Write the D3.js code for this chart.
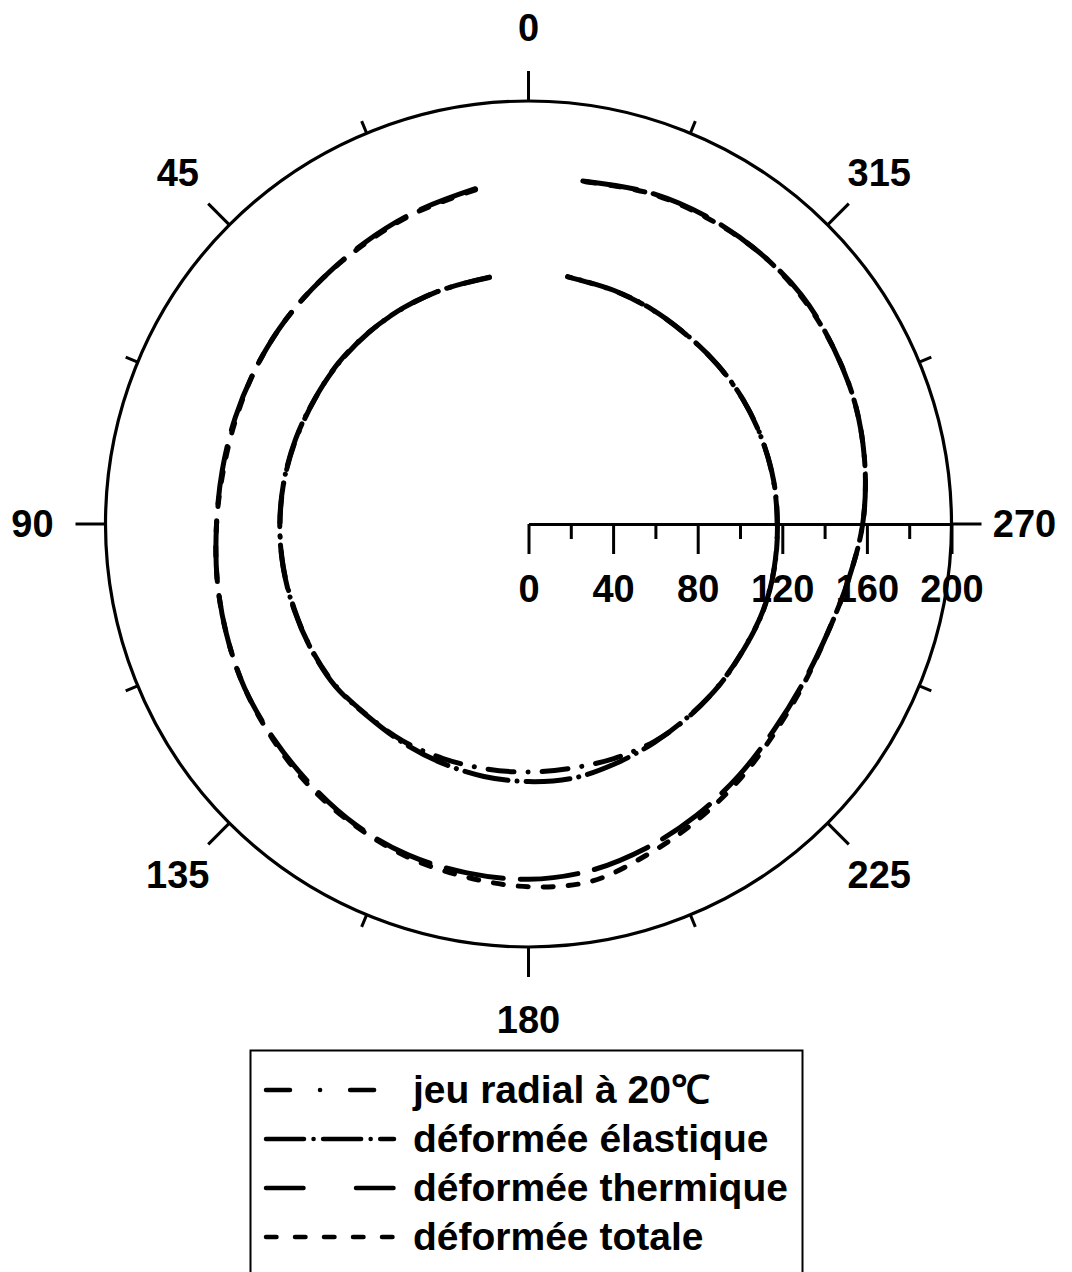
<!DOCTYPE html>
<html>
<head>
<meta charset="utf-8">
<script src="https://cdn.jsdelivr.net/npm/d3@7"></script>
<style>
  html, body { margin: 0; padding: 0; background: #fff; }
  svg { display: block; }
  text { font-family: "Liberation Sans", Arial, sans-serif; font-weight: bold; fill: #000; }
</style>
</head>
<body>
<svg id="chart" width="1072" height="1272"></svg>
<script>
// Angular positions (degrees, counter-clockwise from the top) of the measured points
const angles = [9, 20, 30, 40, 50, 60, 70, 80, 90, 100, 110, 120, 130, 140, 150, 160, 170, 180,
                190, 200, 210, 220, 230, 240, 250, 260, 270, 280, 290, 300, 310, 320, 330, 340, 351];

// Radial values (µm) for each series
const jeuRadial = [118, 118, 118, 118, 117.8, 117, 117, 117.3, 117.5, 117.7, 117.8, 118.5, 119, 118.3, 118.5, 118, 117.5, 117.3,
                   117.2, 118, 118.8, 118.5, 118, 117.7, 118.2, 118, 117.6, 117.6, 117.5, 117.2, 116.8, 116.5, 117, 117.5, 118.3];
const elastique = [118.2, 118, 118.1, 117.9, 117.6, 117.1, 117.2, 117.4, 117.6, 117.8, 118, 118.6, 119.3, 118.5, 119.2, 120.2, 121.2, 121.8,
                   122, 120.5, 119.2, 118.3, 118.1, 117.8, 118.3, 118.1, 117.7, 117.7, 117.4, 117.3, 116.9, 116.6, 117.1, 117.6, 118.4];
const thermique = [160.5, 157, 154, 151.5, 150, 148.5, 147.5, 147, 147.5, 149.5, 152, 155, 157.5, 160.5, 164, 166.5, 167.5, 168,
                   166.5, 163, 159, 155, 151.5, 150, 150.5, 153.5, 158, 161.5, 164.5, 166.5, 168.5, 168.5, 168, 166.8, 164.2];
const totale = [160, 156.5, 153.5, 151.5, 150, 148.5, 147, 146.5, 147.5, 149.5, 152, 155, 158, 161.5, 164.5, 167.5, 169.5, 171.5,
                171.5, 166, 161, 156.5, 152.5, 150.5, 150.5, 153.5, 158, 161.5, 164.5, 166.5, 168, 168.5, 167.5, 166.5, 164];

const seriesNames = ["jeu radial à 20℃", "déformée élastique", "déformée thermique", "déformée totale"];
const seriesValues = [jeuRadial, elastique, thermique, totale];

// Axis ticks and labels
const radialMajorTicks = [0, 40, 80, 120, 160, 200];
const radialMinorTicks = [20, 60, 100, 140, 180];
const angleMajorTicks = [0, 45, 90, 135, 180, 225, 270, 315];
const angleMinorTicks = [22.5, 67.5, 112.5, 157.5, 202.5, 247.5, 292.5, 337.5];

// Line styles per series: on the curves and in the legend keys (key length in px)
const curveDashes = ["26,14,0.1,14", "44,9,0.1,9", "58,17", "10,15"];
const keyDashes = ["24,30,0.1,30", "38,9.5,0.1,9.5", "37.5,52.5", "10.5,18.5"];
const keyLengths = [108.1, 128, 127.5, 126.5];

const svg = d3.select("#chart");
const cx = 528.5, cy = 524, R = 423;
const r = d3.scaleLinear().domain([0, 200]).range([0, R]);
const toRad = d => -d * Math.PI / 180;  // counter-clockwise, zero at the top
const FS = 38;

const g = svg.append("g").attr("transform", `translate(${cx},${cy})`);

// Outer circle
g.append("circle").attr("r", r(200)).attr("fill", "none").attr("stroke", "#000").attr("stroke-width", 3.2);

// Angular ticks (outward)
const tickLine = (deg, r0, r1) => {
  const a = toRad(deg);
  return { x1: r0 * Math.sin(a), y1: -r0 * Math.cos(a), x2: r1 * Math.sin(a), y2: -r1 * Math.cos(a) };
};
g.selectAll("line.amaj").data(angleMajorTicks).join("line")
  .attr("class", "amaj")
  .each(function (d) { const t = tickLine(d, r(200), r(200) + 30); d3.select(this).attr("x1", t.x1).attr("y1", t.y1).attr("x2", t.x2).attr("y2", t.y2); })
  .attr("stroke", "#000").attr("stroke-width", 3);
g.selectAll("line.amin").data(angleMinorTicks).join("line")
  .attr("class", "amin")
  .each(function (d) { const t = tickLine(d, r(200), r(200) + 13); d3.select(this).attr("x1", t.x1).attr("y1", t.y1).attr("x2", t.x2).attr("y2", t.y2); })
  .attr("stroke", "#000").attr("stroke-width", 3);

// Angular labels
g.selectAll("text.alab").data(angleMajorTicks).join("text")
  .attr("class", "alab")
  .attr("x", d => (r(200) + 73) * Math.sin(toRad(d)))
  .attr("y", d => -(r(200) + 73) * Math.cos(toRad(d)))
  .attr("text-anchor", "middle").attr("dominant-baseline", "central")
  .attr("font-size", FS)
  .text(d => d);

// Radial axis along the 270° direction
const axisMajor = d3.axisBottom(r).tickValues(radialMajorTicks).tickSize(30).tickSizeOuter(0).tickPadding(21);
const axisMinor = d3.axisBottom(r).tickValues(radialMinorTicks).tickSize(15).tickSizeOuter(0).tickFormat("");
const ax = g.append("g").call(axisMajor);
g.append("g").call(axisMinor).select(".domain").remove();
g.selectAll(".tick line").attr("stroke", "#000").attr("stroke-width", 3);
ax.select(".domain").attr("stroke", "#000").attr("stroke-width", 3);
ax.selectAll(".tick text")
  .attr("font-size", FS).attr("font-family", "Liberation Sans, Arial, sans-serif")
  .attr("font-weight", "bold").attr("fill", "#000");

// Series curves
const line = d3.lineRadial()
  .angle(d => toRad(d[0]))
  .radius(d => r(d[1]))
  .curve(d3.curveCatmullRom.alpha(0.5));

seriesValues.forEach((vals, i) => {
  g.append("path")
    .datum(angles.map((a, j) => [a, vals[j]]))
    .attr("d", line)
    .attr("fill", "none")
    .attr("stroke", "#000")
    .attr("stroke-width", 5)
    .attr("stroke-linecap", "round")
    .attr("stroke-dasharray", curveDashes[i]);
});

// Legend
const legend = svg.append("g");
legend.append("rect")
  .attr("x", 250.5).attr("y", 1050.5).attr("width", 552).attr("height", 260)
  .attr("fill", "none").attr("stroke", "#000").attr("stroke-width", 2);
const rowY = d3.scalePoint().domain(seriesNames).range([1090, 1237]);
seriesNames.forEach((name, i) => {
  const y = rowY(name);
  legend.append("line")
    .attr("x1", 266).attr("x2", 266 + keyLengths[i]).attr("y1", y).attr("y2", y)
    .attr("stroke", "#000").attr("stroke-width", 4.5)
    .attr("stroke-linecap", "round").attr("stroke-dasharray", keyDashes[i]);
  legend.append("text")
    .attr("x", 413).attr("y", y + 13)
    .attr("font-size", 39)
    .text(name);
});
</script>
</body>
</html>
